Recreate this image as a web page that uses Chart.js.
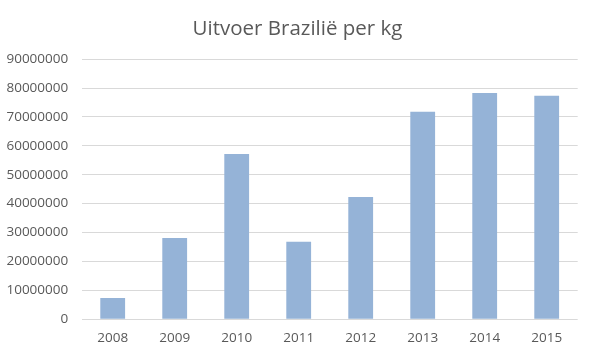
<!DOCTYPE html>
<html>
<head>
<meta charset="utf-8">
<script src="https://cdn.jsdelivr.net/npm/chart.js@4/dist/chart.umd.min.js"></script>
<style>
html,body{margin:0;padding:0;background:#fff;}
#wrap{width:595px;height:356px;position:relative;}
</style>
</head>
<body>
<div id="wrap"><canvas id="c" width="595" height="356"></canvas></div>
<script>
const categories = ["2008","2009","2010","2011","2012","2013","2014","2015"];
const exportKg = [7400000, 28100000, 57200000, 26800000, 42300000, 71800000, 78300000, 77300000];
const chartTitle = "Uitvoer Brazilië per kg";

new Chart(document.getElementById('c'), {
  type: 'bar',
  data: {
    labels: categories,
    datasets: [{
      label: chartTitle,
      data: exportKg,
      backgroundColor: '#95b3d7',
      barPercentage: 0.4,
      categoryPercentage: 1.0
    }]
  },
  options: {
    responsive: false,
    animation: false,
    devicePixelRatio: 1,
    layout: { padding: { left: 0, right: 0, top: 0, bottom: 0 } },
    plugins: {
      legend: { display: false },
      tooltip: { enabled: false },
      title: {
        display: true,
        text: chartTitle,
        color: '#595959',
        font: { family: 'Open Sans', size: 20.5, weight: 'normal' },
        padding: { top: 17, bottom: 17.5 }
      }
    },
    scales: {
      x: {
        grid: { display: false, drawTicks: false },
        border: { display: false },
        ticks: { color: '#595959', font: { family: 'Open Sans', size: 13.5 }, padding: 10.5 },
        afterFit: s => { s.height = 36.7; }
      },
      y: {
        min: 0,
        max: 90000000,
        ticks: {
          stepSize: 10000000,
          color: '#595959',
          font: { family: 'Open Sans', size: 13.5 },
          padding: 13.5,
          callback: v => String(v)
        },
        grid: { color: '#d9d9d9', drawTicks: false, lineWidth: 1 },
        border: { display: false },
        afterFit: s => { s.width = 81.7; }
      },
      yRight: {
        type: 'linear',
        position: 'right',
        display: true,
        grid: { display: false, drawTicks: false },
        border: { display: false },
        ticks: { display: false },
        afterFit: s => { s.width = 17.3; }
      }
    }
  }
});
</script>
</body>
</html>
